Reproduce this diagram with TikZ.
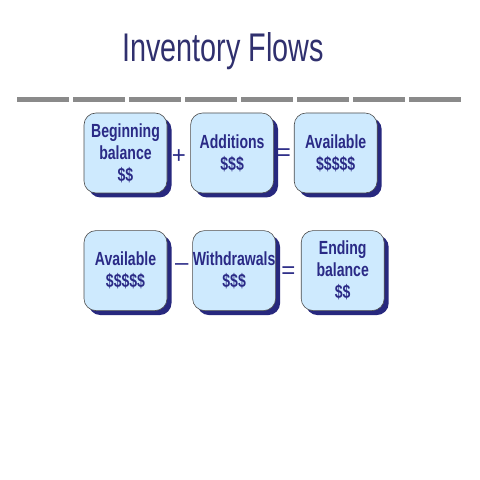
\documentclass[tikz,border=0pt]{standalone}
\usepackage{fontspec}
\setmainfont{Liberation Sans}
\newfontfamily\titlefont[FakeStretch=0.72]{Liberation Sans}
\newfontfamily\boxfont[FakeStretch=0.74]{Liberation Sans}
\usepackage{tikz}
\usetikzlibrary{positioning,shadows,calc}
\definecolor{boxblue}{HTML}{CEEAFE}
\definecolor{shadownavy}{HTML}{27287E}
\definecolor{inknavy}{HTML}{2A2A86}
\definecolor{titlenavy}{HTML}{30306E}
\definecolor{rulegray}{HTML}{8A8A8A}

\begin{document}
\begin{tikzpicture}[
  x=1pt, y=1pt,
  node distance=23pt,
  flow/.style={draw=black!70, line width=0.6pt, fill=boxblue, rounded corners=12pt,
    minimum width=83pt, minimum height=80pt, inner xsep=0pt, align=center,
    text=inknavy, font=\boxfont\bfseries\fontsize{19}{22}\selectfont,
    drop shadow={shadow xshift=4.5pt, shadow yshift=-4.5pt, fill=shadownavy, opacity=1}},
  op/.style={text=inknavy, font=\fontsize{24}{24}\selectfont}
]
  \useasboundingbox (0,0) rectangle (480,480);

  \node[anchor=base, text=titlenavy, font=\titlefont\fontsize{40}{40}\selectfont]
    (title) at (223,418) {Inventory Flows};
  \foreach \i in {0,...,7}
    \draw[rulegray, line width=5pt] ({17+56*\i},380) -- ({69+56*\i},380);

  \node[flow] (beg) at (125.5,327) {Beginning\\balance\\\$\$};
  \node[flow, right=23pt of beg] (add) {Additions\\\$\$\$};
  \node[flow, right=20pt of add] (avl) {Available\\\$\$\$\$\$};

  \node[flow, below=37pt of beg] (avl2) {Available\\\$\$\$\$\$};
  \node[flow, right=25pt of avl2] (wdr) {Withdrawals\\\$\$\$};
  \node[flow, right=25pt of wdr] (end) {Ending\\balance\\\$\$};

  \node[op, yshift=-4pt] (plus) at ($(beg.east)!.5!(add.west)$) {+};
  \node[op, yshift=-2pt] (eqa) at ($(add.east)!.5!(avl.west)$) {=};
  \node[op, yshift=3.5pt, xshift=2pt] (minus) at ($(avl2.east)!.5!(wdr.west)$) {--};
  \node[op, yshift=-2.5pt] (eqb) at ($(wdr.east)!.5!(end.west)$) {=};
\end{tikzpicture}
\end{document}
